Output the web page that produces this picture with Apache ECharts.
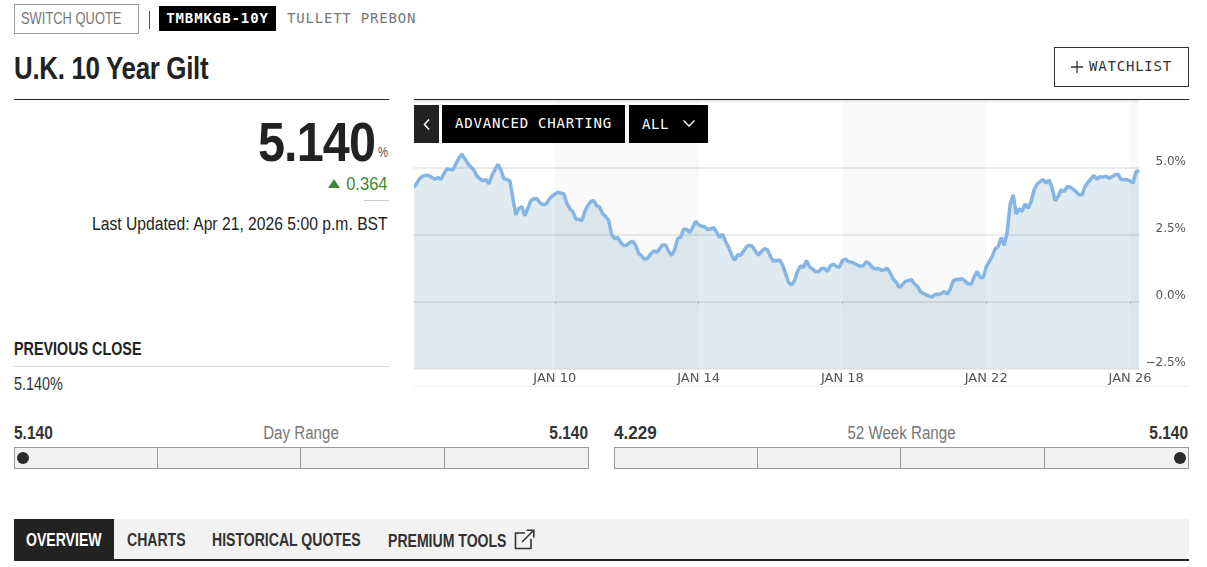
<!DOCTYPE html>
<html>
<head>
<meta charset="utf-8">
<title>U.K. 10 Year Gilt</title>
<script src="https://cdn.jsdelivr.net/npm/echarts@6/dist/echarts.min.js"></script>
<style>
  html, body { margin: 0; padding: 0; background: #fff; overflow: hidden; }
  body { width: 1207px; height: 567px; position: relative; color: #222; font-family: "Liberation Sans", sans-serif; }
  .abs { position: absolute; white-space: nowrap; }
  .mono { font-family: "DejaVu Sans Mono", "Liberation Mono", monospace; }
  .black { background: #000; color: #fff; text-align: center; }
  .rule { position: absolute; height: 1px; }
  .range { position: absolute; top: 447px; width: 573px; height: 20px; border: 1px solid #999; background: #f2f2f2; }
  .range i { position: absolute; top: 0; bottom: 0; width: 1px; background: #999; }
  .range b { position: absolute; top: 4px; width: 12px; height: 12px; border-radius: 6px; background: #2b2b2b; }
  .num { font-size: 18px; font-weight: bold; color: #333; top: 423px; line-height: 20px; transform: scaleX(.86); }
  .rlabel { font-size: 18px; color: #777; top: 423px; line-height: 20px; transform: scaleX(.84); }
  .tab { top: 529px; font-size: 19px; font-weight: bold; line-height: 22px; color: #333; transform: scaleX(.74); transform-origin: left; }
  .nl { transform-origin: left; }
  .nr { transform-origin: right; }
  #chart { position: absolute; left: 414px; top: 95px; width: 790px; height: 300px; }
</style>
</head>
<body>

<div class="abs" style="left:14px;top:4px;width:123px;height:28px;border:1px solid #999;"></div>
<div class="abs nl" style="left:21px;top:9px;font-size:17px;line-height:20px;color:#777;transform:scaleX(.76);">SWITCH QUOTE</div>
<div class="abs" style="left:149px;top:11px;width:1px;height:18px;background:#555;"></div>
<div class="abs black mono" style="left:159px;top:6px;width:117px;height:25px;line-height:25px;font-size:14px;font-weight:bold;letter-spacing:.9px;">TMBMKGB-10Y</div>
<div class="abs mono" style="left:287px;top:9px;font-size:14px;line-height:18px;color:#777;letter-spacing:.8px;">TULLETT PREBON</div>

<div class="abs nl" style="left:14px;top:50px;font-size:32px;line-height:36px;font-weight:bold;letter-spacing:-.4px;transform:scaleX(.81);">U.K. 10 Year Gilt</div>
<div class="abs mono" style="left:1054px;top:47px;width:133px;height:38px;border:1px solid #333;"></div>
<svg class="abs" style="left:1071px;top:61px;" width="12" height="12"><path d="M6 0V12M0 6H12" stroke="#333" stroke-width="1.3"/></svg>
<div class="abs mono" style="left:1089px;top:58px;font-size:14px;line-height:16px;letter-spacing:.8px;color:#333;">WATCHLIST</div>

<div class="rule" style="left:14px;top:99px;width:375px;background:#222;"></div>
<div class="rule" style="left:414px;top:99px;width:775px;background:#222;"></div>

<div class="abs nr" style="right:832px;top:112px;font-size:56px;line-height:60px;font-weight:bold;letter-spacing:-1px;transform:scaleX(.867);">5.140</div>
<div class="abs nl" style="left:378px;top:144px;font-size:14px;line-height:16px;color:#555;transform:scaleX(.8);">%</div>
<div class="abs" style="left:328px;top:179px;width:0;height:0;border-left:6.5px solid transparent;border-right:6.5px solid transparent;border-bottom:9px solid #3a8a35;"></div>
<div class="abs nr" style="right:819px;top:174px;font-size:19px;line-height:20px;color:#3a8a35;transform:scaleX(.87);">0.364</div>
<div class="rule" style="left:364px;top:200px;width:25px;background:#ccc;"></div>
<div class="abs nr" style="right:819px;top:214px;font-size:18.5px;line-height:20px;color:#222;transform:scaleX(.848);">Last Updated: Apr 21, 2026 5:00 p.m. BST</div>

<div class="abs nl" style="left:14px;top:339px;font-size:18.5px;line-height:20px;font-weight:bold;transform:scaleX(.775);">PREVIOUS CLOSE</div>
<div class="rule" style="left:14px;top:366px;width:375px;background:#ddd;"></div>
<div class="abs nl" style="left:14px;top:374px;font-size:18px;line-height:20px;color:#333;transform:scaleX(.8);">5.140%</div>

<div id="chart"></div>
<div class="rule" style="left:414px;top:386px;width:775px;background:#eee;"></div>

<div class="abs black" style="left:414px;top:105px;width:25px;height:38px;background:#222;"></div>
<svg class="abs" style="left:422px;top:118px;" width="10" height="13"><path d="M7 1.5L2.5 6.5L7 11.5" fill="none" stroke="#fff" stroke-width="1.6"/></svg>
<div class="abs black mono" style="left:442px;top:105px;width:183px;height:38px;line-height:36px;font-size:14px;letter-spacing:.8px;">ADVANCED CHARTING</div>
<div class="abs black" style="left:629px;top:105px;width:79px;height:38px;"></div>
<div class="abs mono" style="left:642px;top:115px;color:#fff;font-size:14px;line-height:18px;letter-spacing:.6px;">ALL</div>
<svg class="abs" style="left:682px;top:119px;" width="14" height="10"><path d="M1.5 1.5L7 7L12.5 1.5" fill="none" stroke="#fff" stroke-width="1.4"/></svg>

<div class="abs num nl" style="left:14px;">5.140</div>
<div class="abs rlabel" style="left:14px;width:574px;text-align:center;">Day Range</div>
<div class="abs num nr" style="right:619px;">5.140</div>
<div class="range" style="left:14px;"><i style="left:142px"></i><i style="left:285px"></i><i style="left:429px"></i><b style="left:2px"></b></div>

<div class="abs num nl" style="left:614px;transform:scaleX(.95);">4.229</div>
<div class="abs rlabel" style="left:614px;width:575px;text-align:center;">52 Week Range</div>
<div class="abs num nr" style="right:19px;">5.140</div>
<div class="range" style="left:614px;"><i style="left:142px"></i><i style="left:285px"></i><i style="left:429px"></i><b style="left:559px"></b></div>

<div class="abs" style="left:14px;top:519px;width:1175px;height:40px;background:#f2f2f2;"></div>
<div class="abs" style="left:14px;top:559px;width:1175px;height:2px;background:#222;"></div>
<div class="abs" style="left:14px;top:519px;width:100px;height:40px;background:#222;"></div>
<div class="abs tab" style="left:26px;color:#fff;">OVERVIEW</div>
<div class="abs tab" style="left:127px;">CHARTS</div>
<div class="abs tab" style="left:212px;">HISTORICAL QUOTES</div>
<div class="abs tab" style="left:388px;top:530px;">PREMIUM TOOLS</div>
<svg class="abs" style="left:514px;top:529px;" width="21" height="21"><path d="M11 4H1.5V19.5H17V10M8 13L19.5 1.5M12.5 1.2H19.8V8.5" fill="none" stroke="#333" stroke-width="1.6"/></svg>

<script>
// monthly yield readings, Feb 2006 to Apr 2026
let yieldValues = [
  4.25, 4.43, 4.60, 4.68, 4.71, 4.69, 4.63, 4.56, 4.63, 4.55, 4.78, 4.95,
  4.93, 4.91, 5.14, 5.35, 5.50, 5.32, 5.14, 5.02, 4.91, 4.68, 4.58, 4.50,
  4.55, 4.39, 4.70, 4.91, 5.12, 4.91, 4.58, 4.55, 4.50, 3.86, 3.23, 3.48,
  3.54, 3.20, 3.48, 3.76, 3.83, 3.84, 3.69, 3.61, 3.63, 3.79, 3.93, 4.00,
  4.08, 4.04, 4.02, 3.67, 3.46, 3.36, 3.08, 3.07, 3.01, 3.36, 3.58, 3.73,
  3.76, 3.57, 3.52, 3.27, 3.17, 3.01, 2.49, 2.34, 2.39, 2.20, 2.09, 2.10,
  2.20, 2.25, 2.09, 1.80, 1.69, 1.58, 1.62, 1.77, 1.89, 1.83, 1.97, 2.11,
  2.11, 1.87, 1.72, 1.93, 2.34, 2.40, 2.70, 2.70, 2.57, 2.76, 2.99, 2.86,
  2.81, 2.79, 2.69, 2.71, 2.76, 2.59, 2.39, 2.51, 2.24, 2.03, 1.74, 1.53,
  1.74, 1.73, 1.87, 2.05, 2.10, 2.05, 1.87, 1.73, 1.87, 1.98, 1.92, 1.68,
  1.50, 1.53, 1.55, 1.37, 1.06, 0.72, 0.62, 0.77, 1.12, 1.33, 1.27, 1.53,
  1.30, 1.22, 1.11, 1.11, 1.22, 1.24, 1.12, 1.34, 1.39, 1.31, 1.28, 1.53,
  1.58, 1.49, 1.47, 1.42, 1.36, 1.31, 1.34, 1.49, 1.41, 1.27, 1.21, 1.23,
  1.17, 1.18, 1.24, 1.06, 0.83, 0.71, 0.52, 0.62, 0.75, 0.78, 0.82, 0.67,
  0.57, 0.37, 0.30, 0.25, 0.20, 0.17, 0.27, 0.26, 0.30, 0.37, 0.27, 0.46,
  0.77, 0.83, 0.82, 0.85, 0.75, 0.65, 0.65, 0.93, 1.12, 0.90, 0.90, 1.29,
  1.49, 1.68, 1.97, 2.05, 2.39, 2.09, 2.61, 3.63, 3.98, 3.26, 3.46, 3.36,
  3.64, 3.48, 3.73, 4.17, 4.38, 4.48, 4.55, 4.42, 4.54, 4.23, 3.76, 3.92,
  4.17, 4.10, 4.28, 4.27, 4.19, 4.10, 3.98, 3.98, 4.29, 4.45, 4.58, 4.70,
  4.56, 4.66, 4.64, 4.68, 4.60, 4.66, 4.73, 4.75, 4.56, 4.54, 4.55, 4.50,
  4.42, 4.83, 4.90
];

// 横轴数据: one label per month
let months = [];
for (let i = 0; i < yieldValues.length; i++) {
  let total = 2006 * 12 + 1 + i;
  let m = total % 12 + 1;
  months.push(Math.floor(total / 12) + '-' + (m < 10 ? '0' + m : m));
}

let xTickMonths = ['2010-01', '2014-01', '2018-01', '2022-01', '2026-01'];
let xTickLabels = ['JAN 10', 'JAN 14', 'JAN 18', 'JAN 22', 'JAN 26'];
let yTicks = [-2.5, 0, 2.5, 5, 7.5];
let shadedSpans = [['2010-01', '2014-01'], ['2018-01', '2022-01'], ['2026-01', '2026-04']];

let myChart = echarts.init(document.getElementById('chart'));

let isXTick = function(index, value) {
  return xTickMonths.indexOf(value) >= 0;
};

let option = {
  animation: false,
  grid: { left: 0, top: 5.5, width: 725, height: 268 },
  xAxis: {
    type: 'category',
    data: months,
    boundaryGap: false,
    axisLine: { show: false },
    axisTick: { show: true, interval: isXTick, length: 3, lineStyle: { color: '#ccc' } },
    axisLabel: {
      interval: isXTick,
      margin: 4,
      color: '#555',
      fontFamily: 'DejaVu Sans',
      fontSize: 13,
      formatter: function(value) {
        return xTickLabels[xTickMonths.indexOf(value)];
      }
    },
    splitLine: { show: false }
  },
  yAxis: {
    type: 'value',
    position: 'right',
    min: yTicks[0],
    max: yTicks[yTicks.length - 1],
    interval: 2.5,
    axisLine: { show: false },
    axisTick: { show: false },
    axisLabel: {
      margin: 47,
      align: 'right',
      verticalAlign: 'bottom',
      color: '#555',
      fontFamily: 'DejaVu Sans',
      fontSize: 12,
      formatter: function(value) {
        if (value === 7.5) return '';
        return (value < 0 ? '\u2212' + (-value).toFixed(1) : value.toFixed(1)) + '%';
      }
    },
    splitLine: { show: true, lineStyle: { color: '#e4e4e4', width: 1.5 } }
  },
  series: [
    {
      type: 'line',
      data: yieldValues,
      symbol: 'none',
      lineStyle: { color: '#85b5e4', width: 3.5 },
      areaStyle: { color: 'rgba(60,125,170,0.16)', origin: 'start', opacity: 1 },
      markArea: {
        silent: true,
        itemStyle: { color: 'rgba(0,0,0,0.025)' },
        data: shadedSpans.map(function(s) {
          return [{ xAxis: s[0] }, { xAxis: s[1] }];
        })
      }
    }
  ]
};
myChart.setOption(option);
</script>
</body>
</html>
